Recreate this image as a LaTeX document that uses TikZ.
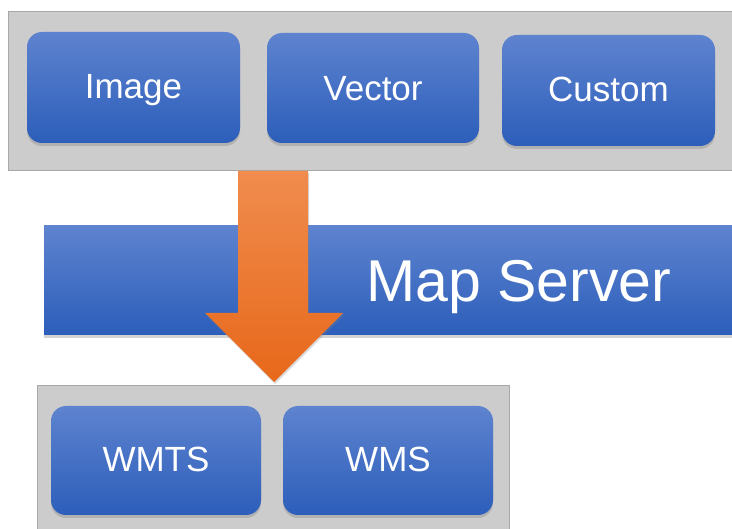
\documentclass[tikz,border=0pt]{standalone}
\usepackage{fontspec}
\setmainfont{Liberation Sans}
\usetikzlibrary{shadows}
\definecolor{tiletop}{RGB}{94,131,207}
\definecolor{tilebot}{RGB}{44,94,186}
\definecolor{traygray}{RGB}{204,204,204}
\definecolor{trayline}{RGB}{168,168,168}
\definecolor{flowtop}{RGB}{240,140,78}
\definecolor{flowbot}{RGB}{231,104,26}
\tikzset{
    % grey tray behind a row of tiles
    tray/.style={
           draw=trayline,
           fill=traygray,
           line width=0.8pt,},
    % blue rounded tile with its text
    tile/.style={
           rounded corners=15pt,
           top color=tiletop,
           bottom color=tilebot,
           minimum width=212pt,
           minimum height=110pt,
           inner sep=0pt,
           text=white,
           text height=23pt,
           text depth=0pt,
           font=\fontsize{35}{40}\selectfont,
           drop shadow={shadow xshift=0pt, shadow yshift=-3pt, opacity=0.35},},
    % long blue band
    band/.style={
           top color=tiletop,
           bottom color=tilebot,
           drop shadow={shadow xshift=0pt, shadow yshift=-3pt, opacity=0.35},},
    % orange block arrow
    flow/.style={
           top color=flowtop,
           bottom color=flowbot,
           drop shadow={shadow xshift=1pt, shadow yshift=-2pt, opacity=0.3},}
}
\begin{document}
\begin{tikzpicture}[x=1pt, y=-1pt, outer sep = 0pt]

\useasboundingbox (0,0) rectangle (732,529);

% top tray
\filldraw [tray] (8,11) rectangle (738,170);

% sources
\node [tile, minimum width=213pt, minimum height=111pt] (image)  at (133.5, 87.5) {Image};
\node [tile, text height=24.5pt]                         (vector) at (373, 88)    {Vector};
\node [tile, minimum width=213pt, minimum height=111pt] (custom) at (608.5, 90.5) {Custom};

% map server
\path [band] (44,226) rectangle (745,335);
\node [text=white, anchor=base, font=\fontsize{59}{66}\selectfont] (server) at (519, 302) {Map Server};

% arrow through the server
\path [flow] (238,171) -- (308,171) -- (308,313) -- (343,313) -- (274,382)
             -- (205,313) -- (238,313) -- cycle;

% bottom tray
\filldraw [tray] (37,385) rectangle (509,535);

% services
\node [tile, minimum width=210pt, minimum height=109pt] (wmts) at (156, 460.5) {WMTS};
\node [tile, minimum width=210pt, minimum height=109pt] (wms)  at (388, 460.5) {WMS};

\end{tikzpicture}
\end{document}
